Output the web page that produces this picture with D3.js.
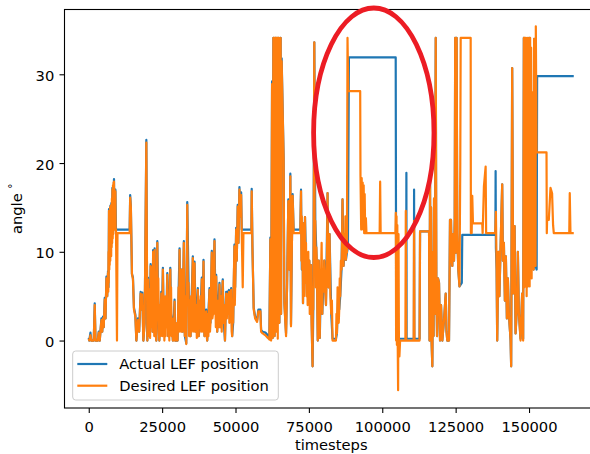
<!DOCTYPE html>
<html>
<head>
<meta charset="utf-8">
<script src="https://cdn.jsdelivr.net/npm/d3@7"></script>
<style>
  body { margin: 0; background: #fff; }
  svg text { font-family: "DejaVu Sans", sans-serif; }
</style>
</head>
<body>
<svg id="chart" width="590" height="454"></svg>
<script>
// values: [timestep, angle]
var xTicks = [0, 25000, 50000, 75000, 100000, 125000, 150000];
var yTicks = [0, 10, 20, 30];
var seriesNames = ["Actual LEF position", "Desired LEF position"];

var actual = [
  [0,0.3],[170,0],[580,0.9],[850,0],[1700,0],[2040,4.2],[2300,0],[3060,0],[3400,1.0],[3740,0],
  [4320,2.5],[4590,1.0],[4860,2.7],[5100,1.5],[5440,4.8],[5710,2.5],[6020,7.2],[6290,5.0],[6560,7.8],[6730,6.0],
  [6900,14.8],[7140,9.0],[7380,15.2],[7550,10.0],[7720,15.5],[7890,11.0],[8060,17.2],[8260,12.0],[8600,18.2],[8770,13.0],
  [9080,17.0],[9280,12.5],[13940,12.5],[14110,16.4],[14350,15.0],[14720,7.5],[15060,7.1],[15400,3.7],[15880,2.9],[16220,0],
  [16760,2.5],[17170,1.0],[17680,5.5],[18020,3.5],[18260,5.4],[18600,0],[19040,2.0],[19620,22.6],[19960,0],[20160,7.1],
  [20500,3.8],[20740,0.5],[21080,8.6],[21320,5.0],[21520,8.4],[21760,1.0],[21930,10.2],[22200,4.0],[22440,10.4],[22680,2.0],
  [23020,0],[23360,11.2],[23700,2.5],[24040,0],[24720,5.5],[24920,3.0],[25260,8.2],[25600,1.0],[26080,4.8],[26350,2.0],
  [26760,7.6],[27100,0.5],[27780,8.2],[28050,3.0],[28320,2.5],[28660,0],[29240,4.6],[29480,0],[30260,0],[30940,10.4],
  [31280,3.0],[31620,8.0],[31960,1.0],[32400,11.2],[32740,0.5],[33220,-0.3],[33560,15.6],[34000,6.5],[34340,2.0],[34680,0.5],
  [35460,9.5],[35700,4.0],[36040,8.9],[36480,1.0],[37160,5.9],[37470,0.5],[37910,2.0],[38520,7.1],[38760,3.0],[39100,9.1],
  [39440,0.5],[40020,3.5],[40360,0],[41140,5.9],[41480,2.0],[41920,10.1],[42330,3.0],[42840,11.4],[43180,4.0],[43420,7.4],
  [43760,1.0],[44200,4.5],[44540,6.5],[44880,1.5],[45660,6.9],[46000,2.0],[46410,0],[46820,5.5],[47260,5.4],[47770,5.7],
  [48010,2.5],[48520,5.9],[48860,0.5],[49200,2.0],[49640,10.8],[49880,6.0],[50220,12.7],[50420,9.0],[50760,15.3],[51000,11.0],
  [51340,17.3],[51610,14.0],[51920,16.7],[52120,12.5],[55420,12.5],[55520,17.1],[55760,10.6],[56200,3.7],[56680,2.7],[57360,2.3],
  [57800,3.5],[58480,3.5],[58720,1.2],[59260,1.0],[60180,0.9],[61030,0.6],[61540,0.4],[61880,11.6],[62120,0.1],[62460,29.2],
  [62660,0.3],[62900,34.1],[63310,0.5],[63720,34.1],[64120,3.0],[64530,34.1],[64940,2.0],[65380,34.1],[65520,3.0],[65720,31.8],
  [66400,20.6],[66640,4.3],[67220,0.8],[67560,6.0],[68000,15.9],[68340,8.0],[68680,18.8],[68900,1.8],[69200,10.6],[69460,16.5],
  [69800,12.5],[72080,12.5],[72320,17.0],[72590,8.0],[72860,12.0],[73000,4.2],[73200,13.2],[73440,6.5],[73680,13.9],[74020,9.0],
  [74360,5.0],[74800,6.1],[75140,9.0],[75480,3.0],[75720,8.5],[76060,0.1],[76260,-2.9],[76500,3.5],[76840,33.6],[77180,13.5],
  [77760,8.0],[78030,0],[78370,9.0],[78710,0.3],[79120,7.0],[79560,3.0],[80240,9.0],[80820,4.0],[81360,16.6],[81700,6.0],
  [82040,12.0],[82620,3.0],[83060,0.2],[84220,0.2],[84560,0.8],[85000,5.3],[85340,3.5],[85680,5.0],[86120,8.0],[86460,15.9],
  [86800,8.4],[87280,10.2],[87620,9.1],[87960,9.9],[88300,10.5],[88640,31.9],[104580,31.9],[104750,0.2],[108150,0.2],[108220,18.9],
  [108300,0.2],[110780,0.2],[110840,17.0],[110920,0.2],[112710,0.2],[112880,12.3],[115940,12.3],[116110,0],[116280,18.5],[116450,2.0],
  [116620,15.0],[116790,0],[117060,-2.9],[117300,10.0],[117470,0.5],[117640,16.0],[117910,3.0],[118220,34.1],[118420,6.5],[118660,0.5],
  [119000,7.0],[119340,6.5],[119680,0],[120020,4.0],[120460,0],[121040,2.3],[121620,5.3],[121890,1.0],[122160,0],[122740,0],
  [123080,13.6],[123420,13.6],[123660,9.0],[123860,8.4],[124100,12.0],[124440,9.0],[124680,13.6],[124850,34.1],[125090,9.9],[125330,34.1],
  [125560,12.1],[125900,8.0],[126310,6.1],[127100,6.5],[127260,11.9],[138550,11.9],[138620,19.1],[138720,10.4],[138960,8.0],[139160,0],
  [139570,10.0],[139910,5.0],[140420,12.0],[140860,17.6],[141100,9.0],[141440,11.0],[141780,4.5],[142120,9.5],[142460,2.5],[142800,7.0],
  [143140,3.0],[143720,0],[143920,-2.9],[144260,30.7],[144600,5.3],[145080,12.9],[145420,0.8],[145960,4.2],[146200,10.0],[146540,3.1],
  [147120,0.2],[147660,5.3],[148000,0.2],[148240,34.1],[148650,8.0],[149060,30.0],[149530,6.1],[150040,34.1],[150550,9.0],[151060,25.0],
  [151570,8.0],[151740,34.0],[152220,8.4],[152600,8.0],[152760,29.8],[165240,29.8]
];

var desired = [
  [0,0.2],[170,0],[580,0.6],[850,0],[1700,0],[2040,4.0],[2300,0],[3060,0],[3400,0.9],[3740,0],
  [4320,2.3],[4590,1.0],[4860,2.5],[5100,1.5],[5440,4.6],[5710,2.5],[6020,7.0],[6290,5.0],[6560,7.6],[6650,5.5],
  [6730,10.0],[6800,6.5],[6900,14.6],[7000,8.0],[7080,14.0],[7140,8.5],[7260,15.0],[7330,9.0],[7380,15.0],[7460,10.0],
  [7550,15.2],[7640,9.5],[7720,15.3],[7800,10.5],[7890,16.0],[7970,11.0],[8060,17.0],[8150,11.5],[8260,17.5],[8350,12.0],
  [8450,17.8],[8520,12.5],[8600,17.9],[8690,12.5],[8770,17.0],[8860,12.8],[8960,16.5],[9020,12.5],[9080,16.8],[9180,12.5],
  [9280,12.5],[9620,0],[9790,12.1],[13940,12.1],[14110,16.1],[14350,15.0],[14720,7.5],[15060,6.9],[15400,3.5],
  [15880,2.7],[16220,0],[16760,2.3],[17170,1.0],[17680,5.3],[18020,3.5],[18260,5.2],[18600,0],[19040,1.9],[19620,22.3],
  [19960,0],[20160,6.9],[20330,2.0],[20500,5.8],[20620,0.5],[20740,3.0],[20900,0.3],[21080,8.4],[21200,2.5],[21320,6.0],
  [21420,1.5],[21520,8.2],[21640,3.0],[21760,1.0],[21930,10.0],[22060,2.5],[22200,7.0],[22320,0.5],[22440,10.2],[22560,4.0],
  [22680,6.0],[22850,0.5],[23020,0],[23180,6.0],[23360,11.0],[23500,4.5],[23700,7.0],[23870,1.0],[24040,0],[24200,4.0],
  [24380,0.5],[24550,3.5],[24720,5.3],[24820,1.0],[24920,4.0],[25080,0.5],[25260,8.0],[25430,3.5],[25600,5.0],[25760,0],
  [25920,2.5],[26080,4.6],[26200,0.5],[26350,5.0],[26560,1.5],[26760,7.4],[26930,2.0],[27100,0.5],[27280,4.0],[27450,0],
  [27620,5.5],[27780,8.0],[27900,2.0],[28050,6.0],[28200,0.5],[28320,2.3],[28500,1.0],[28660,0],[28850,2.5],[29050,0],
  [29240,4.4],[29360,1.0],[29480,0],[29700,1.5],[29900,0],[30080,2.0],[30260,0],[30600,6.0],[30760,1.0],[30940,10.2],
  [31100,2.5],[31280,7.0],[31450,1.0],[31620,8.0],[31800,2.5],[31960,1.0],[32180,6.0],[32400,11.0],[32570,2.0],[32740,0.5],
  [32980,5.0],[33220,-0.4],[33400,8.0],[33560,15.3],[33780,4.0],[34000,6.5],[34170,0.5],[34340,2.0],[34500,4.5],[34680,0.5],
  [34900,5.0],[35100,1.0],[35300,7.0],[35460,9.3],[35580,2.0],[35700,4.0],[35870,1.0],[36040,8.7],[36250,3.0],[36480,1.0],
  [36650,4.0],[36820,0.3],[37000,3.0],[37160,5.7],[37300,1.5],[37470,0.5],[37700,4.5],[37910,2.0],[38100,5.0],[38300,1.0],
  [38520,6.9],[38640,1.5],[38760,3.0],[38930,1.0],[39100,8.9],[39270,2.0],[39440,0.5],[39700,2.5],[40020,3.3],[40180,0.5],
  [40360,0],[40560,3.0],[40760,0.5],[40950,4.0],[41140,5.7],[41300,1.0],[41480,2.0],[41700,6.5],[41920,9.9],[42120,2.5],
  [42330,3.0],[42600,7.5],[42840,11.2],[43000,3.0],[43180,4.0],[43300,1.5],[43420,7.2],[43600,2.5],[43760,1.0],[44000,3.0],
  [44200,4.5],[44380,1.5],[44540,6.3],[44700,2.0],[44880,1.5],[45100,5.0],[45300,1.0],[45480,4.5],[45660,6.7],[45830,2.0],
  [46000,2.0],[46200,4.0],[46410,0],[46620,3.0],[46820,5.3],[47050,2.5],[47260,5.2],[47500,3.0],[47770,5.5],[47900,2.0],
  [48010,2.5],[48250,4.5],[48520,5.7],[48700,1.0],[48860,0.5],[49030,3.0],[49200,2.0],[49420,7.0],[49640,10.6],[49760,4.0],
  [49880,6.0],[50050,9.0],[50220,12.5],[50420,9.0],[50760,15.1],[51000,11.0],[51340,17.0],[51610,14.0],[51920,16.4],[52120,12.1],
  [52460,6.0],[52700,12.1],[55420,12.1],[55520,16.8],[55760,10.6],[56200,3.5],[56680,2.5],[57360,2.1],[57800,3.3],[58480,3.3],
  [58720,1.0],[59260,0.8],[60180,0.6],[61030,0.3],[61540,0.1],[61880,11.4],[62120,0],[62460,28.9],[62660,0.3],[62900,34.1],
  [63040,2.0],[63170,34.1],[63310,0.5],[63440,34.1],[63580,5.0],[63720,34.1],[63850,1.0],[63990,34.1],[64120,3.0],[64260,34.1],
  [64400,0.2],[64530,34.1],[64670,8.0],[64800,34.1],[64940,2.0],[65080,33.0],[65210,4.0],[65380,34.1],[65520,3.0],[65720,31.5],
  [66400,20.4],[66640,4.3],[67220,0.5],[67560,6.0],[68000,15.7],[68340,8.0],[68680,18.5],[68900,1.6],[69200,10.6],[69460,16.3],
  [69800,12.1],[72080,12.1],[72320,16.8],[72450,9.0],[72590,14.0],[72720,8.0],[72860,12.0],[73000,4.2],[73100,11.0],[73200,13.2],
  [73320,5.0],[73440,10.5],[73560,6.5],[73680,13.9],[73850,7.0],[74020,11.0],[74190,5.0],[74360,9.0],[74580,4.0],[74800,10.0],
  [74970,5.0],[75140,9.0],[75300,3.0],[75480,7.5],[75600,3.0],[75720,8.5],[75900,2.0],[76060,0.1],[76260,-2.9],[76380,6.0],
  [76500,3.5],[76650,12.0],[76840,33.6],[77000,10.0],[77180,13.5],[77350,6.0],[77550,10.5],[77760,8.0],[77900,3.0],[78030,0],
  [78200,6.0],[78370,9.0],[78540,4.0],[78710,0.3],[78900,8.0],[79120,7.0],[79340,11.0],[79560,3.0],[79780,8.0],[80000,5.5],
  [80240,9.0],[80520,6.0],[80820,4.0],[81100,8.0],[81360,16.6],[81530,7.0],[81700,6.0],[81870,10.0],[82040,12.0],[82330,5.0],
  [82620,3.0],[82840,4.5],[83060,0],[84220,0],[84400,3.0],[84560,0.8],[84780,6.0],[85000,5.3],[85170,2.0],[85340,3.5],
  [85510,7.0],[85680,5.0],[85900,9.0],[86120,8.0],[86290,11.0],[86460,15.9],[86630,9.0],[86800,8.4],[87040,12.0],[87280,10.2],
  [87450,14.0],[87620,9.1],[87790,12.5],[87960,9.9],[88160,34.1],[88400,28.1],[92480,28.1],[92580,18.5],[92820,12.5],[92990,18.3],
  [93160,13.0],[93330,17.8],[93500,12.5],[93670,17.5],[93840,12.1],[94010,16.5],[94180,12.1],[94420,13.8],[94620,12.1],[99110,12.1],
  [99280,17.9],[99450,12.1],[104480,12.1],[104620,14.4],[104720,0],[104850,14.0],[104990,-0.5],[105130,13.0],[105260,0],[105400,-5.6],
  [105540,12.0],[105670,0],[105840,-1.8],[106080,0],[107880,0],[108020,14.6],[108160,0],[110700,0],[110840,13.5],[110970,0],
  [112710,0],[112880,12.3],[115940,12.3],[116110,0],[116280,18.5],[116450,2.0],[116620,15.0],[116790,0],[117060,-2.9],[117300,10.0],
  [117470,0.5],[117640,16.0],[117910,3.0],[118220,34.1],[118420,6.5],[118660,0.5],[119000,7.0],[119340,6.5],[119680,0],[120020,4.0],
  [120460,0],[121040,2.3],[121620,5.3],[121890,1.0],[122160,0],[122740,0],[123080,13.6],[123420,13.6],[123660,9.0],[123860,8.4],
  [124100,12.0],[124440,9.0],[124680,13.6],[124850,34.1],[125090,9.9],[125330,34.1],[125560,12.1],[125900,8.0],[126310,6.1],[126580,20.0],
  [126720,34.1],[130120,34.1],[130190,12.1],[130460,12.1],[130660,16.3],[130900,13.2],[134060,13.2],[134200,12.1],[134640,17.4],[135220,19.6],
  [135390,12.1],[138480,12.1],[138720,14.5],[138960,8.0],[139160,0],[139570,10.0],[139910,5.0],[140420,12.0],[140860,17.6],[141100,9.0],
  [141440,11.0],[141780,4.5],[142120,9.5],[142460,2.5],[142800,7.0],[143140,3.0],[143720,0],[143920,-2.9],[144260,30.7],[144600,5.3],
  [145080,12.9],[145420,0.8],[145960,4.2],[146200,10.0],[146540,3.1],[147120,0],[147660,5.3],[148000,0],[148240,34.1],[148380,6.0],
  [148510,34.1],[148650,8.0],[148780,34.1],[148920,6.1],[149060,30.0],[149190,5.0],[149360,34.1],[149530,6.1],[149700,30.0],[149870,8.4],
  [150040,34.1],[150210,6.1],[150380,34.1],[150550,9.0],[150720,33.0],[150890,7.0],[151060,25.0],[151230,10.0],[151400,28.0],[151570,8.0],
  [151740,34.0],[151980,10.0],[152220,8.4],[152320,35.4],[152560,21.2],[155960,21.2],[156060,12.1],[156160,13.6],[156740,13.6],[157320,17.2],
  [157860,16.6],[158200,13.0],[158440,12.1],[163710,12.1],[163880,16.6],[164120,12.1],[165240,12.1]
];

var svg = d3.select("#chart");
var M = { left: 64.5, right: 598, top: 9.5, bottom: 408 };
var fontSize = "14.7px";

var x = d3.scaleLinear().domain([-8262, 173502]).range([M.left, M.right]);
var y = d3.scaleLinear().domain([-7.6, 37.3]).range([M.bottom, M.top]);

var line = d3.line()
  .x(function(d) { return x(d[0]); })
  .y(function(d) { return y(d[1]); });

svg.append("rect").attr("width", 590).attr("height", 454).attr("fill", "#fff");

var colors = ["#1f77b4", "#ff7f0e"];
[actual, desired].forEach(function(s, i) {
  svg.append("path")
    .datum(s)
    .attr("d", line)
    .attr("fill", "none")
    .attr("stroke", colors[i])
    .attr("stroke-width", 2.2)
    .attr("stroke-linejoin", "round");
});

// axes
var xAxis = d3.axisBottom(x).tickValues(xTicks).tickFormat(d3.format("d"))
  .tickSize(5).tickPadding(8.5).tickSizeOuter(0);
var yAxis = d3.axisLeft(y).tickValues(yTicks).tickFormat(d3.format("d"))
  .tickSize(5).tickPadding(5.2).tickSizeOuter(0);

var gx = svg.append("g").attr("transform", "translate(0," + M.bottom + ")").call(xAxis);
var gy = svg.append("g").attr("transform", "translate(" + M.left + ",0)").call(yAxis);
[gx, gy].forEach(function(g) {
  g.select(".domain").remove();
  g.selectAll("line").attr("stroke", "#000").attr("stroke-width", 1.1);
  g.selectAll("text").attr("fill", "#000").style("font-size", fontSize)
    .style("font-family", "'DejaVu Sans', sans-serif");
});
gy.selectAll("text").attr("dy", "0.42em");

// spines
svg.append("rect")
  .attr("x", M.left).attr("y", M.top)
  .attr("width", M.right - M.left).attr("height", M.bottom - M.top)
  .attr("fill", "none").attr("stroke", "#000").attr("stroke-width", 1.1);

// labels
svg.append("text")
  .attr("x", (M.left + M.right) / 2).attr("y", 450)
  .attr("text-anchor", "middle").style("font-size", fontSize)
  .text("timesteps");

var yl = svg.append("text")
  .attr("transform", "translate(21.5," + ((M.top + M.bottom) / 2) + ") rotate(-90)")
  .attr("text-anchor", "middle").style("font-size", fontSize);
yl.append("tspan").text("angle ");
yl.append("tspan").attr("dy", -6).style("font-size", "10.5px").text("\u00b0");

// legend
var lg = svg.append("g");
lg.append("rect")
  .attr("x", 72.7).attr("y", 351).attr("width", 205.6).attr("height", 49)
  .attr("rx", 3).attr("fill", "#fff").attr("fill-opacity", 0.8)
  .attr("stroke", "#ccc").attr("stroke-width", 1);
seriesNames.forEach(function(name, i) {
  var ly = 364 + i * 21.7;
  lg.append("line")
    .attr("x1", 77.3).attr("x2", 107.3).attr("y1", ly).attr("y2", ly)
    .attr("stroke", colors[i]).attr("stroke-width", 2.2);
  lg.append("text")
    .attr("x", 119.3).attr("y", ly + 5.3)
    .style("font-size", fontSize).text(name);
});

// red hand-drawn ring
svg.append("ellipse")
  .attr("cx", 373.8).attr("cy", 132.75).attr("rx", 60.2).attr("ry", 124.75)
  .attr("fill", "none").attr("stroke", "#ec1c24").attr("stroke-width", 4.8);
</script>
</body>
</html>
